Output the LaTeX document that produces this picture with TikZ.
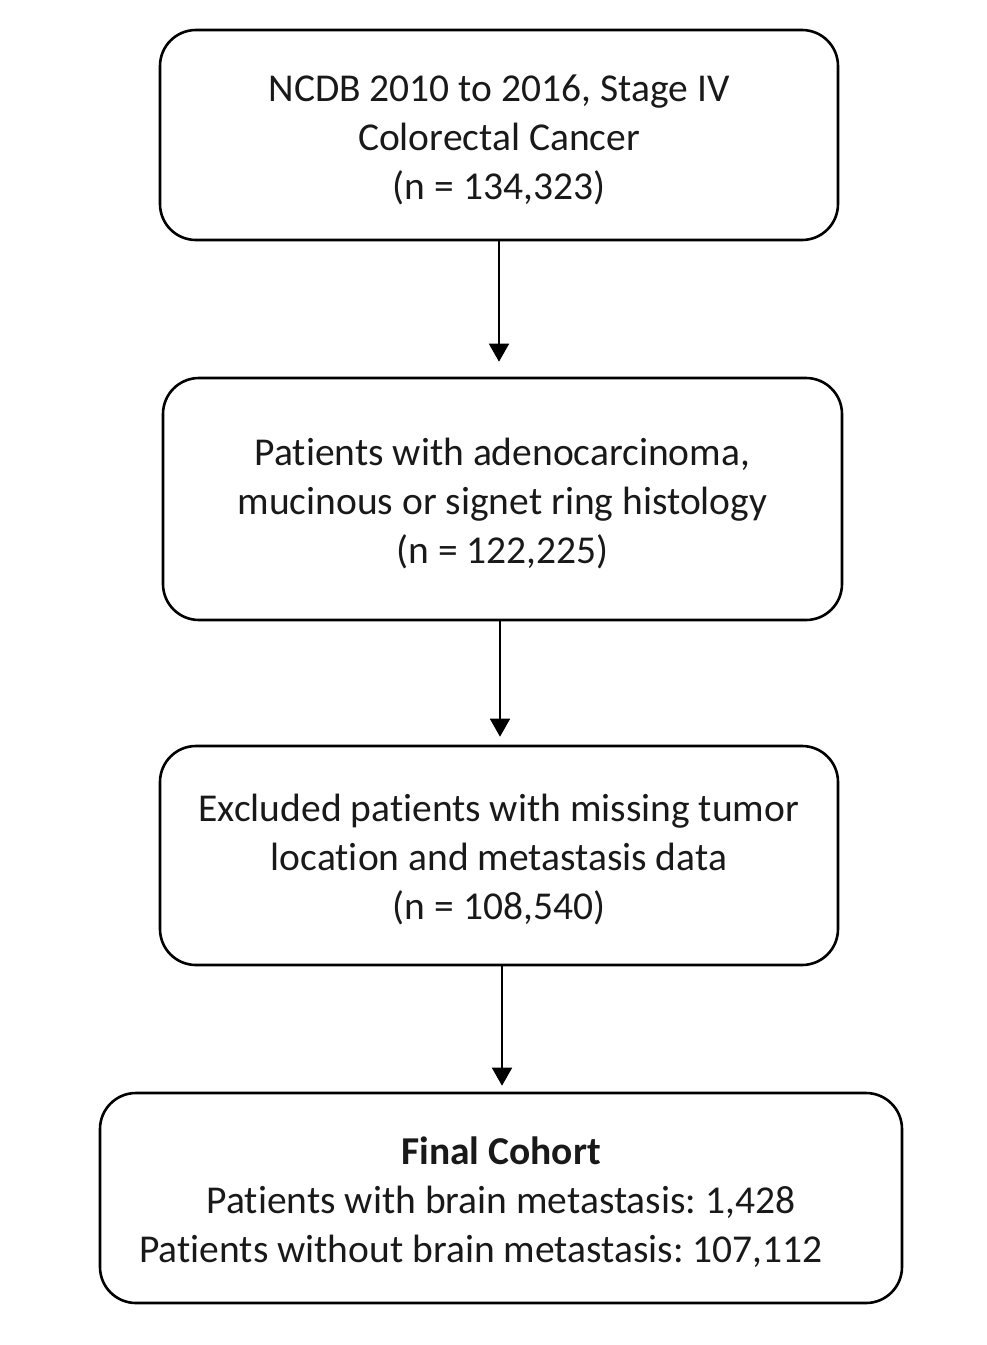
\documentclass[tikz,border=0pt]{standalone}
\usepackage{fontspec}
\setmainfont{Carlito}[RawFeature=-liga]
\usetikzlibrary{arrows.meta}
\begin{document}
\frenchspacing
\begin{tikzpicture}[x=1pt,y=-1pt,
  box/.style={draw=black,line width=2.6pt,rounded corners=36pt,inner sep=0pt},
  txt/.style={align=center,font=\fontsize{39.5}{49}\selectfont,inner sep=0pt,
    text=black!90,yshift=-4.5pt},
  arr/.style={line width=1.6pt,-{Triangle[width=20pt,length=18pt]}}]
\useasboundingbox (0,0) rectangle (986,1345);
\node[box,minimum width=678pt,minimum height=210pt,
  label={[txt]center:NCDB 2010 to 2016, Stage IV\\Colorectal Cancer\\(n = 134,323)}] (b1) at (499,135) {};
\node[box,minimum width=679pt,minimum height=242pt,
  label={[txt]center:Patients with adenocarcinoma,\\mucinous or signet ring histology\\(n = 122,225)}] (b2) at (502.5,499) {};
\node[box,minimum width=678pt,minimum height=219pt,
  label={[txt]center:Excluded patients with missing tumor\\location and metastasis data\\(n = 108,540)}] (b3) at (499,855.5) {};
\node[box,minimum width=802pt,minimum height=210pt,
  label={[txt]center:\textbf{Final Cohort}\\Patients with brain metastasis: 1,428\\Patients without brain metastasis: 107,112\hspace*{40pt}}] (b4) at (501,1198) {};
\draw[arr,shorten >=15pt] (b1.south) -- (b1.south |- b2.north);
\draw[arr,shorten >=8pt] (b2.south -| 500,0) -- (b3.north -| 500,0);
\draw[arr,shorten >=6pt] (b3.south -| 502,0) -- (b4.north -| 502,0);
\end{tikzpicture}
\end{document}
